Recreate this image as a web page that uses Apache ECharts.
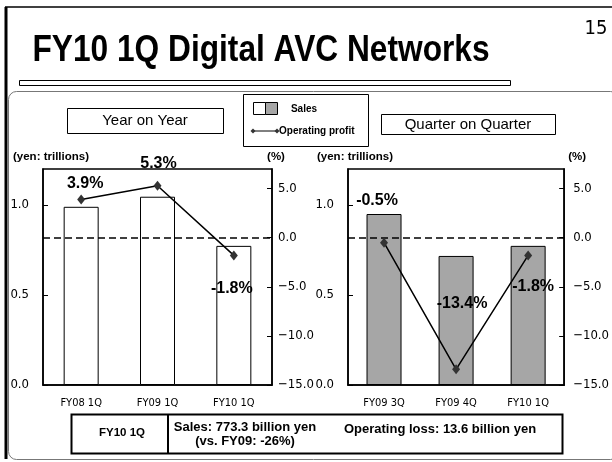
<!DOCTYPE html>
<html><head><meta charset="utf-8">
<script src="https://cdn.jsdelivr.net/npm/echarts@6/dist/echarts.min.js"></script>
<style>html,body{margin:0;padding:0;background:#fff}#c{width:612px;height:462px}</style>
</head><body><div id="c"></div>
<script>
// ---- data ----
const yoyCategories = ['FY08 1Q', 'FY09 1Q', 'FY10 1Q'];
const yoySales = [0.99, 1.046, 0.773];          // yen trillions
const yoyProfit = [3.9, 5.3, -1.8];             // operating profit ratio %
const qoqCategories = ['FY09 3Q', 'FY09 4Q', 'FY10 1Q'];
const qoqSales = [0.95, 0.717, 0.773];
const qoqProfit = [-0.5, -13.4, -1.8];
const salesAxis = { min: 0, max: 1.2, interval: 0.5 };
const pctAxis = { min: -15, max: 7, interval: 5 };

// ---- styles ----
const NARROW = "'DejaVu Sans Condensed','Liberation Sans',sans-serif";
const SANS = "'Liberation Sans',Arial,sans-serif";
const yoyLabelStyle = [
  { position: 'top', offset: [4, 2] },
  { position: 'top', offset: [1, -4] },
  { position: 'bottom', offset: [-2, 15] }
];
const qoqLabelStyle = [
  { position: 'top', offset: [-7, -24] },
  { position: 'top', offset: [6, -48] },
  { position: 'bottom', offset: [5, 13] }
];

function lineData(vals, styles) {
  return vals.map((v, i) => ({ value: v, label: styles[i] }));
}
function xAx(gi, cats) {
  return {
    type: 'category', gridIndex: gi, data: cats, boundaryGap: true,
    axisLine: { lineStyle: { color: '#000', width: 1.5 } },
    axisTick: { inside: true, length: 5, lineStyle: { color: '#000' } },
    axisLabel: { color: '#000', fontFamily: NARROW, fontSize: 11, margin: 13 }
  };
}
function yAx(gi, pos, ax, name, shift, margin, fmt) {
  return {
    type: 'value', gridIndex: gi, position: pos, min: ax.min, max: ax.max, interval: ax.interval,
    name: name, nameLocation: 'end', nameGap: 6,
    nameTextStyle: { color: '#000', fontFamily: SANS, fontWeight: 'bold', fontSize: 11.5, align: 'center', padding: [0, 0, 0, shift * 2] },
    splitLine: { show: false },
    axisLine: { show: true, lineStyle: { color: '#000', width: 1.5 } },
    axisTick: { show: true, inside: true, length: 5, lineStyle: { color: '#000' } },
    axisLabel: { color: '#000', fontFamily: NARROW, fontSize: 13, margin: margin, showMaxLabel: false, formatter: fmt }
  };
}
const fmtSales = v => v.toFixed(1);
const fmtPct = v => (v < 0 ? '\u2212' + Math.abs(v).toFixed(1) : v.toFixed(1));
const pctLabel = { show: true, color: '#000', fontFamily: SANS, fontWeight: 'bold', fontSize: 16,
  formatter: p => p.value.toFixed(1) + '%' };
const zeroLine = { silent: true, symbol: 'none', label: { show: false },
  lineStyle: { color: '#000', type: [7, 4], width: 1.5 }, data: [{ yAxis: 0 }] };

function barSeries(xi, yi, data, color) {
  return { type: 'bar', xAxisIndex: xi, yAxisIndex: yi, data: data, barWidth: 35,
    itemStyle: { color: color, borderColor: '#000', borderWidth: 1 }, z: 2 };
}
function lineSeries(xi, yi, vals, styles) {
  return { type: 'line', xAxisIndex: xi, yAxisIndex: yi, data: lineData(vals, styles),
    symbol: 'diamond', symbolSize: [8, 10], itemStyle: { color: '#333' },
    lineStyle: { color: '#000', width: 1.5 }, label: pctLabel, markLine: zeroLine, z: 5 };
}

const chart = echarts.init(document.getElementById('c'), null, { renderer: 'canvas' });
const txt = (x, y, s, font, align, sx) => ({ type: 'text', x: x, y: y, scaleX: sx || 1,
  style: { text: s, font: font, fill: '#000', align: align || 'center', verticalAlign: 'middle' } });
const rect = (x, y, w, h, stroke, lw, fill, r) => ({ type: 'rect', shape: { x: x, y: y, width: w, height: h, r: r || 0 },
  style: { fill: fill || 'none', stroke: stroke, lineWidth: lw } });
const line = (x1, y1, x2, y2, lw, color) => ({ type: 'line', shape: { x1: x1, y1: y1, x2: x2, y2: y2 },
  style: { stroke: color || '#000', lineWidth: lw } });

chart.setOption({
  animation: false,
  backgroundColor: '#fff',
  grid: [
    { left: 43, right: 340, top: 169, bottom: 77, show: true, borderColor: '#000', borderWidth: 1.5, backgroundColor: 'transparent' },
    { left: 348, right: 37, top: 169, bottom: 77, show: true, borderColor: '#000', borderWidth: 1.5, backgroundColor: 'transparent' }
  ],
  xAxis: [xAx(0, yoyCategories), xAx(1, qoqCategories)],
  yAxis: [
    yAx(0, 'left', salesAxis, '(yen: trillions)', 8, 14, fmtSales),
    yAx(0, 'right', pctAxis, '(%)', 4, 6, fmtPct),
    yAx(1, 'left', salesAxis, '(yen: trillions)', 7, 14, fmtSales),
    yAx(1, 'right', pctAxis, '(%)', 13, 9, fmtPct)
  ],
  series: [
    barSeries(0, 0, yoySales, '#fff'),
    lineSeries(0, 1, yoyProfit, yoyLabelStyle),
    barSeries(1, 2, qoqSales, '#a6a6a6'),
    lineSeries(1, 3, qoqProfit, qoqLabelStyle)
  ],
  graphic: { elements: [
    // slide frame
    line(5, 7, 612, 7, 1.5),
    line(6, 7, 6, 459, 3),
    txt(261, 51, 'FY10 1Q Digital AVC Networks', "bold 36px 'Liberation Sans',Arial,sans-serif", 'center', 0.88),
    txt(596, 29, '15', "20px 'DejaVu Sans Condensed','Liberation Sans',sans-serif"),
    rect(19.5, 80.5, 491, 5, '#000', 1, '#fff'),
    rect(8.5, 91.5, 610, 368, '#777', 1, 'none', 8),
    // boxes
    rect(67.5, 108.5, 156, 25, '#000', 1, '#fff'),
    txt(145, 121, 'Year on Year', "15px 'Liberation Sans',Arial,sans-serif"),
    rect(381.5, 114.5, 174, 20, '#000', 1, '#fff'),
    txt(468, 124.5, 'Quarter on Quarter', "15px 'Liberation Sans',Arial,sans-serif"),
    // legend
    rect(243.5, 94.5, 125, 52, '#000', 1, '#fff'),
    rect(253.5, 102.5, 12, 12, '#000', 1, '#fff'),
    rect(265.5, 102.5, 12, 12, '#000', 1, '#a6a6a6'),
    txt(304, 109, 'Sales', "bold 10px 'Liberation Sans',Arial,sans-serif"),
    line(253, 131, 277, 131, 1),
    { type: 'polygon', shape: { points: [[253, 128.5], [255.5, 131], [253, 133.5], [250.5, 131]] }, style: { fill: '#333' } },
    { type: 'polygon', shape: { points: [[277, 128.5], [279.5, 131], [277, 133.5], [274.5, 131]] }, style: { fill: '#333' } },
    txt(279, 131, 'Operating profit', "bold 10px 'Liberation Sans',Arial,sans-serif", 'left'),
    // bottom table
    rect(71.5, 414.5, 491, 39, '#000', 2, '#fff'),
    line(168, 414, 168, 454, 2),
    txt(122, 433, 'FY10 1Q', "bold 11.5px 'Liberation Sans',Arial,sans-serif"),
    txt(245, 427, 'Sales: 773.3 billion yen', "bold 13px 'Liberation Sans',Arial,sans-serif"),
    txt(245, 441, '(vs. FY09: -26%)', "bold 13px 'Liberation Sans',Arial,sans-serif"),
    txt(440, 429, 'Operating loss: 13.6 billion yen', "bold 13px 'Liberation Sans',Arial,sans-serif")
  ] }
});
</script></body></html>
